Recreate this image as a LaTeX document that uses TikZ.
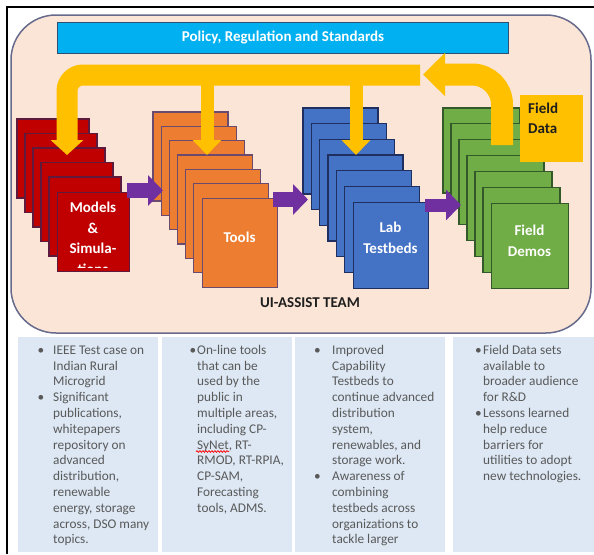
\documentclass[tikz,border=0pt]{standalone}
\usepackage{fontspec}
\setmainfont{Carlito}
\usetikzlibrary{arrows.meta,decorations.pathmorphing}
\definecolor{cPeach}{HTML}{FBE5D6}
\definecolor{cPeachD}{HTML}{666A8C}
\definecolor{cSky}{HTML}{00B0F0}
\definecolor{cSkyD}{HTML}{2F4F72}
\definecolor{cRed}{HTML}{C00000}
\definecolor{cRedD}{HTML}{5E1A3C}
\definecolor{cOrange}{HTML}{ED7D31}
\definecolor{cOrangeD}{HTML}{6A4A6E}
\definecolor{cBlue}{HTML}{4472C4}
\definecolor{cBlueD}{HTML}{1F2F5F}
\definecolor{cGreen}{HTML}{70AD47}
\definecolor{cGreenD}{HTML}{33592B}
\definecolor{cYellow}{HTML}{FFC000}
\definecolor{cPurple}{HTML}{7030A0}
\definecolor{cPale}{HTML}{DDE8F4}
\definecolor{cTxt}{HTML}{595959}
\definecolor{cDark}{HTML}{1E1E1E}
\begin{document}
\begin{tikzpicture}[x=1pt,y=-1pt,
  card/.style={line width=1.1pt},
  redcard/.style={card, fill=cRed, draw=cRedD},
  orangecard/.style={card, fill=cOrange, draw=cOrangeD},
  bluecard/.style={card, fill=cBlue, draw=cBlueD},
  greencard/.style={card, fill=cGreen, draw=cGreenD},
  frontcard/.style={anchor=north west, inner sep=0pt},
  cardtext/.style={text=white, font=\bfseries\fontsize{15}{20.5}\selectfont, align=center, inner sep=0pt},
  purplearrow/.style={draw=cPurple, line width=#1, -{Triangle[length=15pt,width=30pt]}},
  yband/.style={draw=cYellow, line width=21pt, rounded corners=16pt, -{Triangle[length=15pt,width=32pt]}},
  ystem/.style={draw=cYellow, line width=13pt, -{Triangle[length=15pt,width=28pt]}},
  yback/.style={draw=cYellow, line width=22pt, rounded corners=30pt, -{Triangle[length=22pt,width=42pt]}},
  palebox/.style={fill=cPale, draw=none},
  listtext/.style={anchor=north west, inner sep=0pt, align=left, text=cTxt, font=\fontsize{13.3}{15.8}\selectfont},
  spellwave/.style={draw=red, line width=0.7pt, decorate, decoration={snake, amplitude=0.9pt, segment length=3pt}}
]
\useasboundingbox (0,0) rectangle (594,554);
\fill[white] (0,0) rectangle (594,554);

% outer rounded panel
\draw[draw=cPeachD, line width=1.5pt, fill=cPeach, rounded corners=45pt] (11,15) rectangle (591,333);

% policy bar
\node[draw=cSkyD, fill=cSky, line width=0.8pt, anchor=north west, minimum width=451pt, minimum height=31pt, inner sep=0pt] (policy) at (57,22) {};
\node[text=white, font=\bfseries\fontsize{15}{18}\selectfont, inner sep=0pt] (policytext) at (283,37.5) {Policy, Regulation and Standards};

% red stack
\foreach \i in {0,...,4} \draw[redcard] ({17+8*\i},{119+14.5*\i}) rectangle ++(72,79);
\node[redcard, frontcard, minimum width=72pt, minimum height=79pt] (models) at (57,191.5) {};
\begin{scope}
\clip (57,191.5) rectangle (129,267);
\node[cardtext] (modelstext) at (93,238.5) {Models\\\&\\Simula-\\tions};
\end{scope}

% orange stack
\foreach \i in {0,...,5} \draw[orangecard] ({153+8.167*\i},{112+14.33*\i}) rectangle ++(75,89);
\node[orangecard, frontcard, minimum width=75pt, minimum height=89pt] (tools) at (202,198) {};
\node[cardtext] (toolstext) at (239.5,237.5) {Tools};

% blue stack
\foreach \i in {0,...,5} \draw[bluecard] ({303+8.33*\i},{108+15.67*\i}) rectangle ++(75,86);
\node[bluecard, frontcard, minimum width=75pt, minimum height=86pt] (lab) at (353,202) {};
\node[cardtext, font=\bfseries\fontsize{15}{21}\selectfont] (labtext) at (390.5,238) {Lab\\Testbeds};

% green stack
\foreach \i in {0,...,5} \draw[greencard] ({443+8*\i},{108+15.83*\i}) rectangle ++(77,85);
\node[greencard, frontcard, minimum width=77pt, minimum height=85pt] (demos) at (491,203) {};
\node[cardtext, font=\bfseries\fontsize{15}{21}\selectfont] (demostext) at (529.5,240.5) {Field\\Demos};

% purple arrows
\coordinate (p1s) at (127,190.5); \coordinate (p1e) at (163,190.5);
\coordinate (p2s) at (273,199.5); \coordinate (p2e) at (308,199.5);
\coordinate (p3s) at (425,205);   \coordinate (p3e) at (461,205);
\draw[purplearrow=15pt] (p1s) -- (p1e);
\draw[purplearrow=15pt] (p2s) -- (p2e);
\draw[purplearrow=13pt] (p3s) -- (p3e);

% yellow arrows
\coordinate (bandend) at (420,75);
\coordinate (bandcorner) at (67,75);
\coordinate (tipmodels) at (67,155);
\coordinate (stemA) at (207,80);   \coordinate (tipA) at (207,155);
\coordinate (stemB) at (356,80);   \coordinate (tipB) at (356,155);
\coordinate (fdstart) at (502,145);
\coordinate (fdcorner) at (502,74.5);
\coordinate (fdtip) at (423,74.5);
\draw[yband] (bandend) -- (bandcorner) -- (tipmodels);
\draw[ystem] (stemA) -- (tipA);
\draw[ystem] (stemB) -- (tipB);
\draw[yback] (fdstart) -- (fdcorner) -- (fdtip);

% field data box
\node[fill=cYellow, anchor=north west, minimum width=63pt, minimum height=67pt, inner sep=0pt] (fielddata) at (520,95) {};
\node[anchor=north west, inner sep=0pt, align=left, text=cDark, font=\bfseries\fontsize{15}{20}\selectfont] (fielddatatext) at (528,102.5) {Field\\Data};

% team label
\node[text=cDark, font=\bfseries\fontsize{15}{18}\selectfont, inner sep=0pt] (team) at (310,303) {UI-ASSIST TEAM};

% bottom boxes
\fill[palebox] (18,337) rectangle (158,552);
\fill[palebox] (162,337) rectangle (292,552);
\fill[palebox] (295,337) rectangle (445,552);
\fill[palebox] (453,337) rectangle (594,552);

\node[listtext] (list1) at (53,343) {\rule{0pt}{11pt}\llap{•\hspace{9pt}}IEEE Test case on\\Indian Rural\\Microgrid\\\llap{•\hspace{9pt}}Significant\\publications,\\whitepapers\\repository on\\advanced\\distribution,\\renewable\\energy, storage\\across, DSO many\\topics.};
\node[listtext] (list2) at (197,343) {\rule{0pt}{11pt}\llap{•\hspace{1pt}}On-line tools\\that can be\\used by the\\public in\\multiple areas,\\including CP-\\SyNet, RT-\\RMOD, RT-RPIA,\\CP-SAM,\\Forecasting\\tools, ADMS.};
\node[listtext] (list3) at (332,343) {\rule{0pt}{11pt}\llap{•\hspace{11.5pt}}Improved\\Capability\\Testbeds to\\continue advanced\\distribution\\system,\\renewables, and\\storage work.\\\llap{•\hspace{11.5pt}}Awareness of\\combining\\testbeds across\\organizations to\\tackle larger};
\node[listtext] (list4) at (483,343) {\rule{0pt}{11pt}\llap{•\hspace{1.5pt}}Field Data sets\\available to\\broader audience\\for R\&D\\\llap{•\hspace{1.5pt}}Lessons learned\\help reduce\\barriers for\\utilities to adopt\\new technologies.};

% spell-check squiggle under SyNet
\coordinate (wavea) at (196,451.5);
\coordinate (waveb) at (229,451.5);
\draw[spellwave] (wavea) -- (waveb);

% frame lines
\draw[line width=2pt, black] (6.5,554) -- (6.5,6.5) -- (594,6.5);
\end{tikzpicture}
\end{document}
